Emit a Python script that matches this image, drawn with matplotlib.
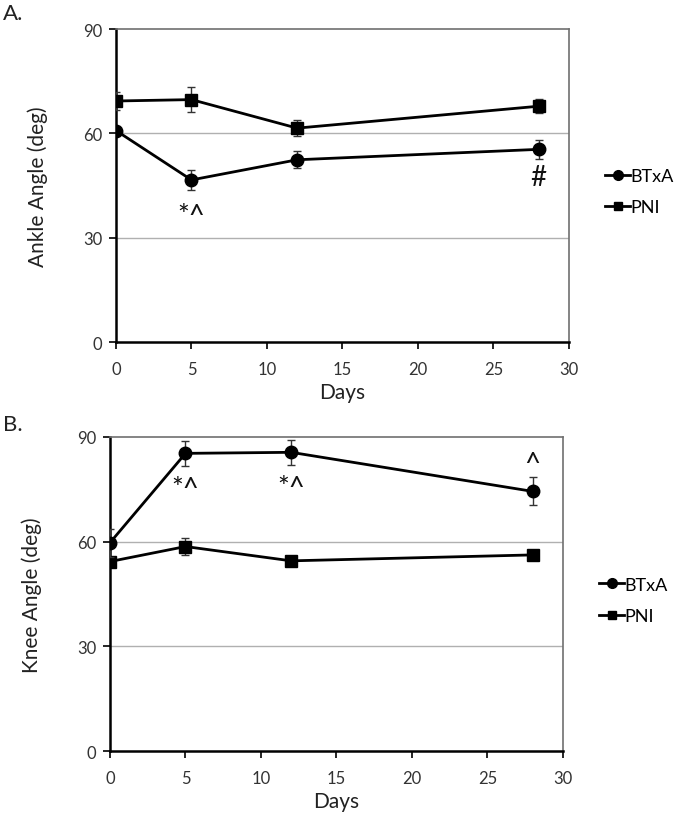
import matplotlib
matplotlib.use("Agg")
import matplotlib.pyplot as plt
from matplotlib.lines import Line2D

plt.rcParams['font.family'] = ['Lato', 'DejaVu Sans']

days = [0, 5, 12, 28]

# Panel A: ankle angle
ankle_btxa = [60.8, 46.6, 52.4, 55.4]
ankle_btxa_err = [1.0, 2.9, 2.5, 2.8]
ankle_pni = [69.3, 69.7, 61.5, 67.8]
ankle_pni_err = [2.5, 3.5, 2.3, 2.0]

# Panel B: knee angle
knee_btxa = [59.7, 85.3, 85.6, 74.4]
knee_btxa_err = [4.0, 3.5, 3.5, 4.0]
knee_pni = [54.3, 58.6, 54.5, 56.2]
knee_pni_err = [0.8, 2.5, 1.5, 0.6]

series_labels = ["BTxA", "PNI"]
panel_letters = ["A.", "B."]
y_labels = ["Ankle Angle (deg)", "Knee Angle (deg)"]
x_label = "Days"
y_ticks = [0, 30, 60, 90]
x_ticks = [0, 5, 10, 15, 20, 25, 30]

# annotations: (panel, point index, series, label, offset points)
annotations = [
    (0, 1, "btxa", "*^", -26),
    (0, 3, "btxa", "#", -20),
    (1, 1, "btxa", "*^", -26),
    (1, 2, "btxa", "*^", -26),
    (1, 3, "btxa", "^", 20),
]

fig = plt.figure(figsize=(6.77, 8.2), dpi=100)
ax_a = fig.add_axes([0.1713, 0.5817, 0.669, 0.3817])
ax_b = fig.add_axes([0.1625, 0.0829, 0.669, 0.383])
axes = [ax_a, ax_b]

data = [
    (ankle_btxa, ankle_btxa_err, ankle_pni, ankle_pni_err),
    (knee_btxa, knee_btxa_err, knee_pni, knee_pni_err),
]

for i, ax in enumerate(axes):
    btxa, btxa_e, pni, pni_e = data[i]
    for yvals in (30, 60):
        ax.axhline(yvals, color='#b0b0b0', lw=1.0, zorder=0)
    ax.errorbar(days, pni, yerr=pni_e, color='black', lw=2.0, marker='s',
                ms=8, ecolor='#333333', elinewidth=1.0, capsize=3, capthick=1.0,
                zorder=3)
    ax.errorbar(days, btxa, yerr=btxa_e, color='black', lw=2.0, marker='o',
                ms=9, ecolor='#333333', elinewidth=1.0, capsize=3, capthick=1.0,
                zorder=4)
    ax.set_xlim(0, 30)
    ax.set_ylim(0, 90)
    ax.set_xticks(x_ticks)
    ax.set_yticks(y_ticks)
    ax.tick_params(axis='both', direction='out', length=5, width=1.2,
                   labelsize=12, colors='black')
    ax.tick_params(axis='y', labelcolor='#333333', pad=5)
    ax.tick_params(axis='x', labelcolor='#333333', pad=9)
    for s in ('left', 'bottom'):
        ax.spines[s].set_color('black')
        ax.spines[s].set_linewidth(1.8)
    for s in ('top', 'right'):
        ax.spines[s].set_color('#707070')
        ax.spines[s].set_linewidth(1.2)
    ax.set_ylabel(y_labels[i], fontsize=15, color='#222222', labelpad=25)
    ax.set_xlabel(x_label, fontsize=15, color='#222222', labelpad=3)
    handles = [
        Line2D([], [], color='black', lw=2.0, marker='o', ms=7),
        Line2D([], [], color='black', lw=2.0, marker='s', ms=6),
    ]
    ax.legend(handles, series_labels,
              loc='center left', bbox_to_anchor=(1.08, 0.48), frameon=False,
              fontsize=13, handlelength=1.4, handletextpad=0.0,
              borderpad=0, borderaxespad=0, labelspacing=0.85)

fig.text(0.005, 0.983, panel_letters[0], fontsize=16, color='#222222', va='center')
fig.text(0.005, 0.482, panel_letters[1], fontsize=16, color='#222222', va='center')

for panel, idx, ser, label, off in annotations:
    vals = data[panel][0] if ser == "btxa" else data[panel][2]
    axes[panel].annotate(label, xy=(days[idx], vals[idx]), xytext=(0, off),
                         textcoords='offset points', ha='center', va='center',
                         fontsize=20, color='#111111')

fig.savefig("out.png", dpi=100)
